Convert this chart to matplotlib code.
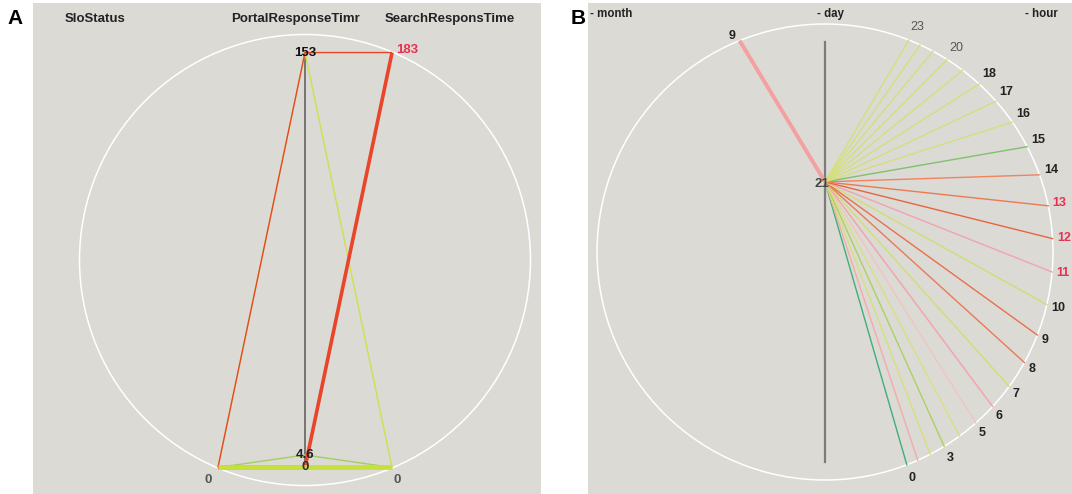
import numpy as np
import matplotlib.pyplot as plt
from matplotlib.patches import Circle

plt.rcParams['font.family'] = ['Liberation Sans', 'DejaVu Sans']

# ---------------- panel A: response time axes ----------------
axis_names = ["SloStatus", "PortalResponseTimr", "SearchResponsTime"]
axis_max = [1, 153, 183]
# one row per record: SloStatus, PortalResponseTimr, SearchResponsTime
records = [
    [0, 153, 0],
    [0, 4.6, 0],
    [0, 0, 183],
    [0, 153, 183],
    [0, 0, 0],
]
record_colors = ["#cfe04c", "#a3cf60", "#e8452b", "#e8452b", "#c8e03a"]
record_widths = [1.0, 1.0, 2.6, 1.0, 3.4]

# ---------------- panel B: month / day / hour ----------------
month = 9
day = 21
hours = list(range(24))
hour_colors = [
    "#3fae7c", "#f4aaa8", "#d3e27a", "#a9d262", "#d6e27e", "#f3c4bf",
    "#f2a2aa", "#cfe070", "#e87a58", "#e8704c", "#cde072", "#f2a2b2",
    "#e8643e", "#ec7a50", "#f2825e", "#7fc26c", "#d3e07c", "#d3e07c",
    "#d3e07c", "#d3e07c", "#d3e07c", "#d3e07c", "#d3e07c", "#d3e07c",
]
labelled_hours = [0, 3, 5, 6, 7, 8, 9, 10, 11, 12, 13, 14, 15, 16, 17, 18, 20, 23]
alert_hours = [11, 12, 13]
faint_hours = [20, 23]

BG = "#dcdad5"
W, H = 1072, 494


def add_panel(fig, left, right, top, cx, cy, r):
    # axes in pixel box, data unit = circle radius
    ax = fig.add_axes([left / W, 0, (right - left) / W, (H - top) / H])
    ax.set_xlim((left - cx) / r, (right - cx) / r)
    ax.set_ylim((cy - H) / r, (cy - top) / r)
    ax.set_facecolor(BG)
    ax.set_xticks([])
    ax.set_yticks([])
    for s in ax.spines.values():
        s.set_visible(False)
    ax.add_patch(Circle((0, 0), 1, fill=False, ec="white", lw=1.1, zorder=1))
    return ax


fig = plt.figure(figsize=(W / 100, H / 100), dpi=100)
fig.patch.set_facecolor("white")

# ================= A =================
axA = add_panel(fig, 33, 541, 3, 305, 260, 225.5)
axis_x = [-0.386, 0.0, 0.386]
span = 0.92


def value_y(v, vmax):
    return -span + v / vmax * 2 * span


axA.plot([0, 0], [-span, span], color="#5a5a5a", lw=1.1, zorder=2)

for rec, c, lw in zip(records, record_colors, record_widths):
    ys = [value_y(v, m) for v, m in zip(rec, axis_max)]
    axA.plot(axis_x, ys, color=c, lw=lw, solid_capstyle="butt", zorder=3)

lab = dict(fontsize=9.5, fontweight="bold", zorder=5)
axA.text(0, value_y(153, 153), "153", ha="center", va="center", color="#111111", **lab)
axA.text(axis_x[2] + 0.018, value_y(183, 183) + 0.013, "183", ha="left", va="center",
         color="#e8304f", **lab)
axA.text(0, value_y(4.6, 153), "4.6", ha="center", va="center", color="#222222", **lab)
axA.text(0, value_y(0, 153), "0", ha="center", va="center", color="#333333", **lab)
axA.text(axis_x[0] - 0.045, -span - 0.055, "0", ha="center", va="center", color="#555555", **lab)
axA.text(axis_x[2] + 0.025, -span - 0.055, "0", ha="center", va="center", color="#555555", **lab)

title_kw = dict(transform=axA.transAxes, fontsize=9.5, fontweight="bold", color="#222222", va="center")
axA.text(0.063, 0.967, axis_names[0], ha="left", **title_kw)
axA.text(0.516, 0.967, axis_names[1], ha="center", **title_kw)
axA.text(0.821, 0.967, axis_names[2], ha="center", **title_kw)

# ================= B =================
axB = add_panel(fig, 588, 1072, 3, 825, 252, 228)
day_span = 0.923


def month_xy(m):
    t = np.radians(180 - (m - 1) * 8.5)
    return np.cos(t), np.sin(t)


def day_xy(d):
    return 0.0, -day_span + (d - 1) / 30 * 2 * day_span


def hour_xy(h):
    # hours packed towards both ends of the arc
    t = np.radians(84 * np.tanh((h - 11.6) / 10))
    return np.cos(t), np.sin(t)


axB.plot([0, 0], [-day_span, day_span], color="#7c7c7c", lw=1.6, zorder=2)

hx, hy = day_xy(day)
mx, my = month_xy(month)
axB.plot([mx, hx], [my, hy], color="#f4a0a0", lw=2.8, solid_capstyle="butt", zorder=3)

for h, c in zip(hours, hour_colors):
    px, py = hour_xy(h)
    axB.plot([hx, px], [hy, py], color=c, lw=1.0, zorder=3)

for h in labelled_hours:
    px, py = hour_xy(h)
    if h in alert_hours:
        col, fw = "#e8304f", "bold"
    elif h in faint_hours:
        col, fw = "#555555", "normal"
    else:
        col, fw = "#222222", "bold"
    axB.text(px * 1.02, py * 1.06, str(h), ha="left", va="center",
             fontsize=9, fontweight=fw, color=col, zorder=5)

axB.text(mx - 0.02, my + 0.018, str(month), ha="right", va="center",
         fontsize=9, fontweight="bold", color="#222222", zorder=5)
axB.text(hx - 0.012, hy - 0.008, str(day), ha="center", va="center",
         fontsize=9.5, fontweight="bold", color="#444444", zorder=5)

tB = dict(transform=axB.transAxes, fontsize=8.3, fontweight="bold", color="#222222", va="center")
axB.text(0.004, 0.978, "- month", ha="left", **tB)
axB.text(0.50, 0.978, "- day", ha="center", **tB)
axB.text(0.971, 0.978, "- hour", ha="right", **tB)

fig.text(15 / W, 1 - 18 / H, "A", fontsize=15, fontweight="bold", ha="center", va="center")
fig.text(578 / W, 1 - 18 / H, "B", fontsize=15, fontweight="bold", ha="center", va="center")

fig.savefig("out.png", dpi=100, facecolor="white")
